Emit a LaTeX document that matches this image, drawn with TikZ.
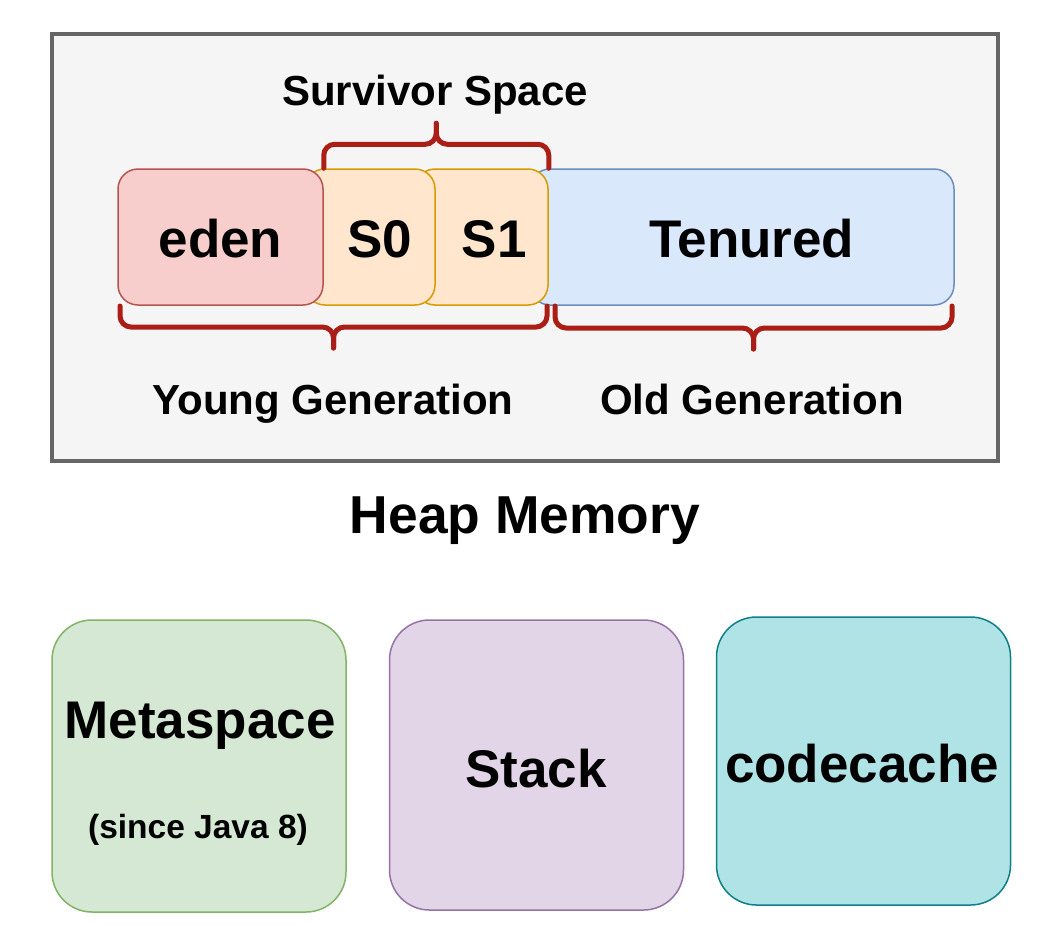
\documentclass[tikz,border=0pt]{standalone}
\usepackage{fontspec}
\setmainfont{Liberation Sans}
\usetikzlibrary{positioning,calc}
\definecolor{heapline}{HTML}{666666}
\definecolor{heapfill}{HTML}{F5F5F5}
\definecolor{edenfill}{HTML}{F8CECC}
\definecolor{edenline}{HTML}{B85450}
\definecolor{survfill}{HTML}{FFE6CC}
\definecolor{survline}{HTML}{D79B00}
\definecolor{tenfill}{HTML}{DAE8FC}
\definecolor{tenline}{HTML}{6C8EBF}
\definecolor{metafill}{HTML}{D5E8D4}
\definecolor{metaline}{HTML}{82B366}
\definecolor{stackfill}{HTML}{E1D5E7}
\definecolor{stackline}{HTML}{9673A6}
\definecolor{cachefill}{HTML}{B0E3E6}
\definecolor{cacheline}{HTML}{0E8088}
\definecolor{bracered}{HTML}{AA1E16}
\tikzset{
  every node/.style={font=\bfseries, text=black},
  seg/.style={draw, rounded corners=20pt, line width=1.5pt, minimum height=136pt, inner sep=0pt},
  area/.style={draw, rounded corners=40pt, line width=1.5pt, minimum width=294pt, minimum height=290pt, inner sep=0pt},
  big/.style={font=\bfseries\fontsize{53}{60}\selectfont, anchor=base, inner sep=0pt},
  mid/.style={font=\bfseries\fontsize{42}{50}\selectfont, anchor=base, inner sep=0pt},
  small/.style={font=\bfseries\fontsize{33.5}{40}\selectfont, anchor=base, inner sep=0pt},
  brace/.style={draw=bracered, line width=5pt, rounded corners=11pt, line cap=round},
}

\begin{document}
\begin{tikzpicture}[x=1pt, y=-1pt]
  \useasboundingbox[fill=white] (0,0) rectangle (1044,924);

  % heap
  \node[draw=heapline, fill=heapfill, line width=4pt, minimum width=946pt, minimum height=427pt, inner sep=0pt] (heap) at (525,247.5) {};

  % generations, back to front
  \node[seg, draw=tenline, fill=tenfill, minimum width=424pt] (ten) at (742,237) {};
  \node[seg, draw=survline, fill=survfill, minimum width=133pt] (s1) at (481.5,237) {};
  \node[seg, draw=survline, fill=survfill, minimum width=130pt] (s0) at (370,237) {};
  \node[seg, draw=edenline, fill=edenfill, minimum width=205pt] (eden) at (220.5,237) {};

  \node[big] (edenlbl) at ($(eden.center)+(0,20)$) {eden};
  \node[big] (s0lbl) at ($(eden.east)!.5!(s0.east)+(0,20)$) {S0};
  \node[big] (s1lbl) at ($(s0.east)!.5!(s1.east)+(2,20)$) {S1};
  \node[big] (tenlbl) at ($(s1.east)!.5!(ten.east)+(0,20)$) {Tenured};

  % braces
  \coordinate (survmid) at ($(eden.north east)!.5!(s1.north east)+(0,-24)$);
  \draw[brace] (eden.north east) |- (survmid) -- ++(0,-21);
  \draw[brace] (s1.north east) |- (survmid) -- ++(0,-21);
  \node[mid] (survlbl) at (435,105) {Survivor Space};

  \coordinate (yl) at (120,306);
  \coordinate (yr) at (547,306);
  \coordinate (youngmid) at ($(yl)!.5!(yr)+(0,21)$);
  \draw[brace] (yl) |- (youngmid) -- ++(0,21);
  \draw[brace] (yr) |- (youngmid) -- ++(0,21);
  \node[mid] (younglbl) at (333,414) {Young Generation};

  \coordinate (ol) at (555,306);
  \coordinate (or) at (952,306);
  \coordinate (oldmid) at ($(ol)!.5!(or)+(0,22)$);
  \draw[brace] (ol) |- (oldmid) -- ++(0,21);
  \draw[brace] (or) |- (oldmid) -- ++(0,21);
  \node[mid] (oldlbl) at (752,414) {Old Generation};

  \node[big, font=\bfseries\fontsize{53.4}{60}\selectfont] (heaplbl) at (525,533) {Heap Memory};

  % non-heap areas
  \node[area, draw=metaline, fill=metafill, minimum height=292pt] (meta) at (199,766) {};
  \node[area, draw=stackline, fill=stackfill] (stack) at (536.5,765) {};
  \node[area, draw=cacheline, fill=cachefill, minimum height=288pt] (cache) at (863.5,761) {};

  \node[big] (metalbl) at (200,738) {Metaspace};
  \node[small] (metanote) at (198,838) {(since Java 8)};
  \node[big] (stacklbl) at (536,787) {Stack};
  \node[big] (cachelbl) at (862,782) {codecache};
\end{tikzpicture}
\end{document}
